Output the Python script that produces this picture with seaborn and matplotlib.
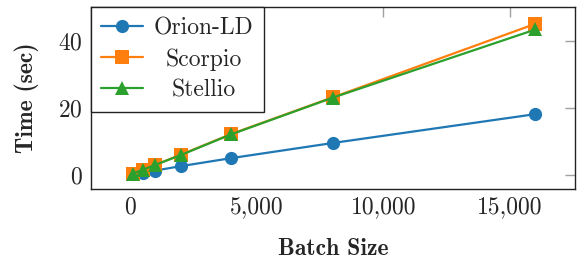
import matplotlib
matplotlib.use("Agg")
import matplotlib.pyplot as plt
import matplotlib.ticker as mticker
import seaborn as sns
import pandas as pd

batch_sizes = [100, 500, 1000, 2000, 4000, 8000, 16000]
orion_ld = [0.2, 0.7, 1.3, 2.6, 5.0, 9.5, 18.1]
scorpio = [0.4, 1.5, 3.0, 6.0, 12.2, 23.1, 45.0]
stellio = [0.4, 1.5, 3.0, 5.9, 12.1, 23.0, 43.3]
series_names = ["Orion-LD", "Scorpio", "Stellio"]
colors = ["#1f77b4", "#ff7f0e", "#2ca02c"]
markers = ["o", "s", "^"]
x_ticks = [0, 5000, 10000, 15000]
y_ticks = [0, 20, 40]

sns.set_style("white")
plt.rcParams["font.family"] = ["cmr10", "DejaVu Serif"]
plt.rcParams["axes.formatter.use_mathtext"] = True

rows = []
for name, vals in zip(series_names, [orion_ld, scorpio, stellio]):
    for b, v in zip(batch_sizes, vals):
        rows.append({"Batch": b, "Time": v, "System": name})
df = pd.DataFrame(rows)

fig = plt.figure(figsize=(5.79, 2.63), dpi=100)
ax = fig.add_axes([91 / 579, 1 - 189 / 263, (575 - 91) / 579, (189 - 7) / 263])

for name, c, m in zip(series_names, colors, markers):
    sub = df[df["System"] == name]
    sns.lineplot(data=sub, x="Batch", y="Time", ax=ax, color=c, marker=m,
                 markersize=9.5, markeredgewidth=0, linewidth=1.6, label=name)

ax.set_xlim(-1540, 17560)
ax.set_ylim(-4.2, 50.0)
ax.set_xticks(x_ticks)
ax.set_yticks(y_ticks)
ax.xaxis.set_major_formatter(mticker.FuncFormatter(lambda v, p: f"{int(v):,}"))
ax.tick_params(direction="in", length=7, width=1, color="#a0a0a0",
               top=True, right=True, labelsize=17, pad=5)
ax.tick_params(axis="y", pad=6)
for s in ax.spines.values():
    s.set_color("#222222")
    s.set_linewidth(1.0)

ax.set_xlabel("Batch Size", fontsize=17, family="cmb10", labelpad=14)
ax.set_ylabel("Time (sec)", fontsize=17, family="cmb10", labelpad=14)

leg = ax.legend(loc="upper left", bbox_to_anchor=(0, 1), borderaxespad=0,
                fontsize=17, frameon=True, fancybox=False, edgecolor="#222222",
                framealpha=1, handlelength=1.8, handletextpad=0.45,
                labelspacing=0.38, borderpad=0.42)
leg.get_frame().set_linewidth(1.0)

fig.canvas.draw()
r = fig.canvas.get_renderer()
texts = leg.get_texts()
widths = [t.get_window_extent(r).width for t in texts]
mw = max(widths)
for t, w in zip(texts, widths):
    t.set_position(((mw - w) / 2, 0))

fig.savefig("out.png", dpi=100)
